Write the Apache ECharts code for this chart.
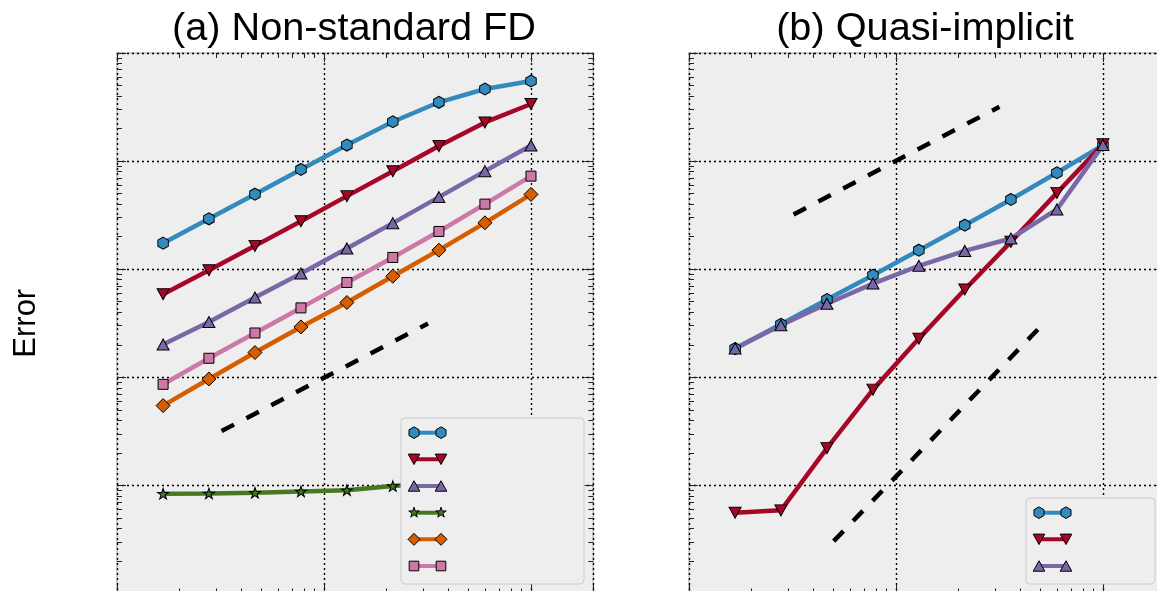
<!DOCTYPE html>
<html><head><meta charset="utf-8">
<script src="https://cdn.jsdelivr.net/npm/echarts@6/dist/echarts.min.js"></script>
<style>html,body{margin:0;padding:0;background:#fff}#c{width:1157px;height:591px}</style>
</head><body><div id="c"></div>
<script>
// ---- data ----
const xVals = [1.67, 2.78, 4.64, 7.74, 12.9, 21.5, 35.9, 59.9, 100];

// (a) Non-standard FD
const fdBlue   = [0.01742, 0.02924, 0.04943, 0.08375, 0.1406, 0.2312, 0.3499, 0.4645, 0.5508];
const fdRed    = [0.005875, 0.009795, 0.01644, 0.02780, 0.04742, 0.08072, 0.1377, 0.2280, 0.3373];
const fdPurple = [0.002009, 0.003251, 0.005470, 0.009120, 0.01556, 0.02667, 0.04645, 0.08072, 0.1396];
const fdGreen  = [8.375e-5, 8.433e-5, 8.551e-5, 8.79e-5, 9.036e-5, 9.863e-5, 1.05e-4, 1.12e-4, 1.2e-4];
const fdOrange = [0.000547, 0.0009638, 0.001694, 0.002924, 0.00492, 0.00861, 0.0150, 0.02685, 0.0492];
const fdPink   = [0.000861, 0.0015, 0.00257, 0.004385, 0.007534, 0.01285, 0.02234, 0.0400, 0.07261];
const fdRefX = [3.2, 31.8];
const fdRefY = [3.18e-4, 3.14e-3];

// (b) Quasi-implicit
const qiBlue   = [0.001845, 0.003097, 0.005236, 0.00879, 0.0150, 0.02553, 0.04416, 0.07798, 0.1406];
const qiRed    = [5.585e-5, 5.875e-5, 2.213e-4, 7.691e-4, 0.00228, 0.006486, 0.01791, 0.05082, 0.1429];
const qiPurple = [0.001845, 0.003027, 0.004797, 0.007362, 0.01074, 0.01476, 0.01923, 0.03573, 0.1406];
const qiRef1X = [3.2, 31.6];
const qiRef1Y = [0.0321, 0.318];
const qiRef2X = [5.0, 48.4];
const qiRef2Y = [3.05e-5, 2.77e-3];

const titles = ['(a) Non-standard FD', '(b) Quasi-implicit'];
const yName = 'Error';
const fdNames = ['fd1', 'fd2', 'fd3', 'fd4', 'fd5', 'fd6'];
const qiNames = ['qi1', 'qi2', 'qi3'];

// ---- styling ----
const C = {blue:'#348ABD', red:'#A60628', purple:'#7A68A6', green:'#467821', orange:'#D55E00', pink:'#CC79A7'};
const FONT = 'Liberation Sans';

const SYM = {
  hex:  {symbol:'path://M0,-10L8.66,-5L8.66,5L0,10L-8.66,5L-8.66,-5Z', size:[10.5, 12]},
  tdn:  {symbol:'path://M-10,-9L10,-9L0,9Z', size:[12, 11]},
  tup:  {symbol:'path://M0,-9L10,9L-10,9Z', size:[12, 11]},
  star: {symbol:'path://M0,-10L2.245,-3.09L9.511,-3.09L3.633,1.18L5.878,8.09L0,3.82L-5.878,8.09L-3.633,1.18L-9.511,-3.09L-2.245,-3.09Z', size:[11, 10.5]},
  dia:  {symbol:'diamond', size:[14, 14]},
  sq:   {symbol:'rect', size:[10, 10]}
};

// legend icon shapes (unit polygons) -> two markers 27px apart in a 39x12 frame
const ICON_POLY = {
  hex:  [[0,-1],[0.866,-0.5],[0.866,0.5],[0,1],[-0.866,0.5],[-0.866,-0.5]],
  tdn:  [[-1,-0.9],[1,-0.9],[0,0.9]],
  tup:  [[0,-0.9],[1,0.9],[-1,0.9]],
  star: [[0,-1],[0.2245,-0.309],[0.9511,-0.309],[0.3633,0.118],[0.5878,0.809],[0,0.382],[-0.5878,0.809],[-0.3633,0.118],[-0.9511,-0.309],[-0.2245,-0.309]],
  dia:  [[0,-1],[1,0],[0,1],[-1,0]],
  sq:   [[-1,-1],[1,-1],[1,1],[-1,1]]
};
const ICON_R = {hex:5.8, tdn:5.8, tup:5.8, star:5.5, dia:6, sq:4.8};
function poly(pts, cx, cy, r) {
  return pts.map((p, i) => (i ? 'L' : 'M') + (cx + p[0]*r).toFixed(2) + ',' + (cy + p[1]*r).toFixed(2)).join('') + 'Z';
}
function markIcon(k) {
  return 'path://M0,0' + poly(ICON_POLY[k], 6, 6, ICON_R[k]) + poly(ICON_POLY[k], 33, 6, ICON_R[k]) + 'M39,12';
}
const barIcon = 'path://M0,0M6,4H33V8H6ZM39,12';

function pairs(xs, ys) { return xs.map((x, i) => [x, ys[i]]); }

function lineSeries(name, ys, color, k, ax) {
  return {
    type:'line', name, xAxisIndex:ax, yAxisIndex:ax, data:pairs(xVals, ys),
    symbol:SYM[k].symbol, symbolSize:SYM[k].size, showSymbol:true,
    lineStyle:{color, width:4.5}, itemStyle:{color, borderColor:'#000', borderWidth:1},
    emphasis:{disabled:true}, animation:false
  };
}
function refSeries(xs, ys, ax) {
  return {
    type:'line', data:pairs(xs, ys), xAxisIndex:ax, yAxisIndex:ax, symbol:'none',
    lineStyle:{color:'#000', width:4.5, type:[14, 14]}, silent:true, animation:false
  };
}

function xAxis(grid, pos, primary) {
  return {
    type:'log', logBase:10, gridIndex:grid, position:pos, min:1, max:200,
    axisLine:{show:false}, axisLabel:{show:false},
    axisTick:{show:true, inside:true, length:9, lineStyle:{color:'#222', width:1}},
    minorTick:{show:true, splitNumber:9, length:5, lineStyle:{color:'#222', width:1}},
    splitLine:{show:primary, lineStyle:{color:'#000', width:1.4, type:[2, 3]}},
    minorSplitLine:{show:false}
  };
}
function yAxis(grid, pos, primary, name) {
  return {
    type:'log', logBase:10, gridIndex:grid, position:pos, min:1e-5, max:1,
    name: name || '', nameLocation:'middle', nameGap:75,
    nameTextStyle:{fontSize:31, color:'#000', fontFamily:FONT},
    axisLine:{show:false}, axisLabel:{show:false},
    axisTick:{show:true, inside:true, length:9, lineStyle:{color:'#222', width:1}},
    minorTick:{show:true, splitNumber:9, length:5, lineStyle:{color:'#222', width:1}},
    splitLine:{show:primary, lineStyle:{color:'#000', width:1.4, type:[2, 3]}},
    minorSplitLine:{show:false}
  };
}

// two stacked legends: bars (with the frame) underneath, outlined markers on top
function legendPair(names, keys, right, padR) {
  const common = {
    orient:'vertical', right, bottom:7, itemWidth:39, itemHeight:12,
    formatter:() => '', textStyle:{fontSize:1}, selectedMode:false
  };
  return [
    Object.assign({}, common, {
      z:5, itemGap:14.67, padding:[8.7, padR, 12, 7],
      data:names.map(n => ({name:n, icon:barIcon})),
      itemStyle:{borderWidth:0}, backgroundColor:'#eeeeee',
      borderColor:'#cccccc', borderWidth:1, borderRadius:4
    }),
    Object.assign({}, common, {
      z:6, itemGap:13.67, padding:[8.2, padR - 0.5, 11.5, 6.5],
      data:names.map((n, i) => ({name:n, icon:markIcon(keys[i])})),
      itemStyle:{borderColor:'#000', borderWidth:1}, backgroundColor:'transparent', borderWidth:0
    })
  ];
}

const gridStyle = {show:true, backgroundColor:'#eeeeee', borderColor:'#bcbcbc', borderWidth:1.5, outerBoundsMode:'none', containLabel:false};

const fdKeys = ['hex', 'tdn', 'tup', 'star', 'dia', 'sq'];
const qiKeys = ['hex', 'tdn', 'tup'];
const titleStyle = {fontSize:39.7, fontWeight:'normal', color:'#000', fontFamily:FONT};

const option = {
  backgroundColor:'#ffffff',
  animation:false,
  title:[
    {text:titles[0], left:349, top:4, textAlign:'center', textStyle:titleStyle},
    {text:titles[1], left:920, top:4, textAlign:'center', textStyle:titleStyle}
  ],
  grid:[
    Object.assign({left:117, top:53, width:476.3, height:540.5}, gridStyle),
    Object.assign({left:689, top:53, width:476.3, height:540.5}, gridStyle)
  ],
  xAxis:[xAxis(0, 'bottom', true), xAxis(0, 'top', false), xAxis(1, 'bottom', true), xAxis(1, 'top', false)],
  yAxis:[yAxis(0, 'left', true, yName), yAxis(0, 'right', false), yAxis(1, 'left', true), yAxis(1, 'right', false)],
  legend: legendPair(fdNames, fdKeys, 573, 137).concat(legendPair(qiNames, qiKeys, 2, 83)),
  series:[
    lineSeries(fdNames[0], fdBlue, C.blue, 'hex', 0),
    lineSeries(fdNames[1], fdRed, C.red, 'tdn', 0),
    lineSeries(fdNames[2], fdPurple, C.purple, 'tup', 0),
    lineSeries(fdNames[3], fdGreen, C.green, 'star', 0),
    lineSeries(fdNames[4], fdOrange, C.orange, 'dia', 0),
    lineSeries(fdNames[5], fdPink, C.pink, 'sq', 0),
    refSeries(fdRefX, fdRefY, 0),
    lineSeries(qiNames[0], qiBlue, C.blue, 'hex', 2),
    lineSeries(qiNames[1], qiRed, C.red, 'tdn', 2),
    lineSeries(qiNames[2], qiPurple, C.purple, 'tup', 2),
    refSeries(qiRef1X, qiRef1Y, 2),
    refSeries(qiRef2X, qiRef2Y, 2)
  ]
};
const chart = echarts.init(document.getElementById('c'), null, {renderer:'canvas'});
chart.setOption(option);
</script></body></html>
